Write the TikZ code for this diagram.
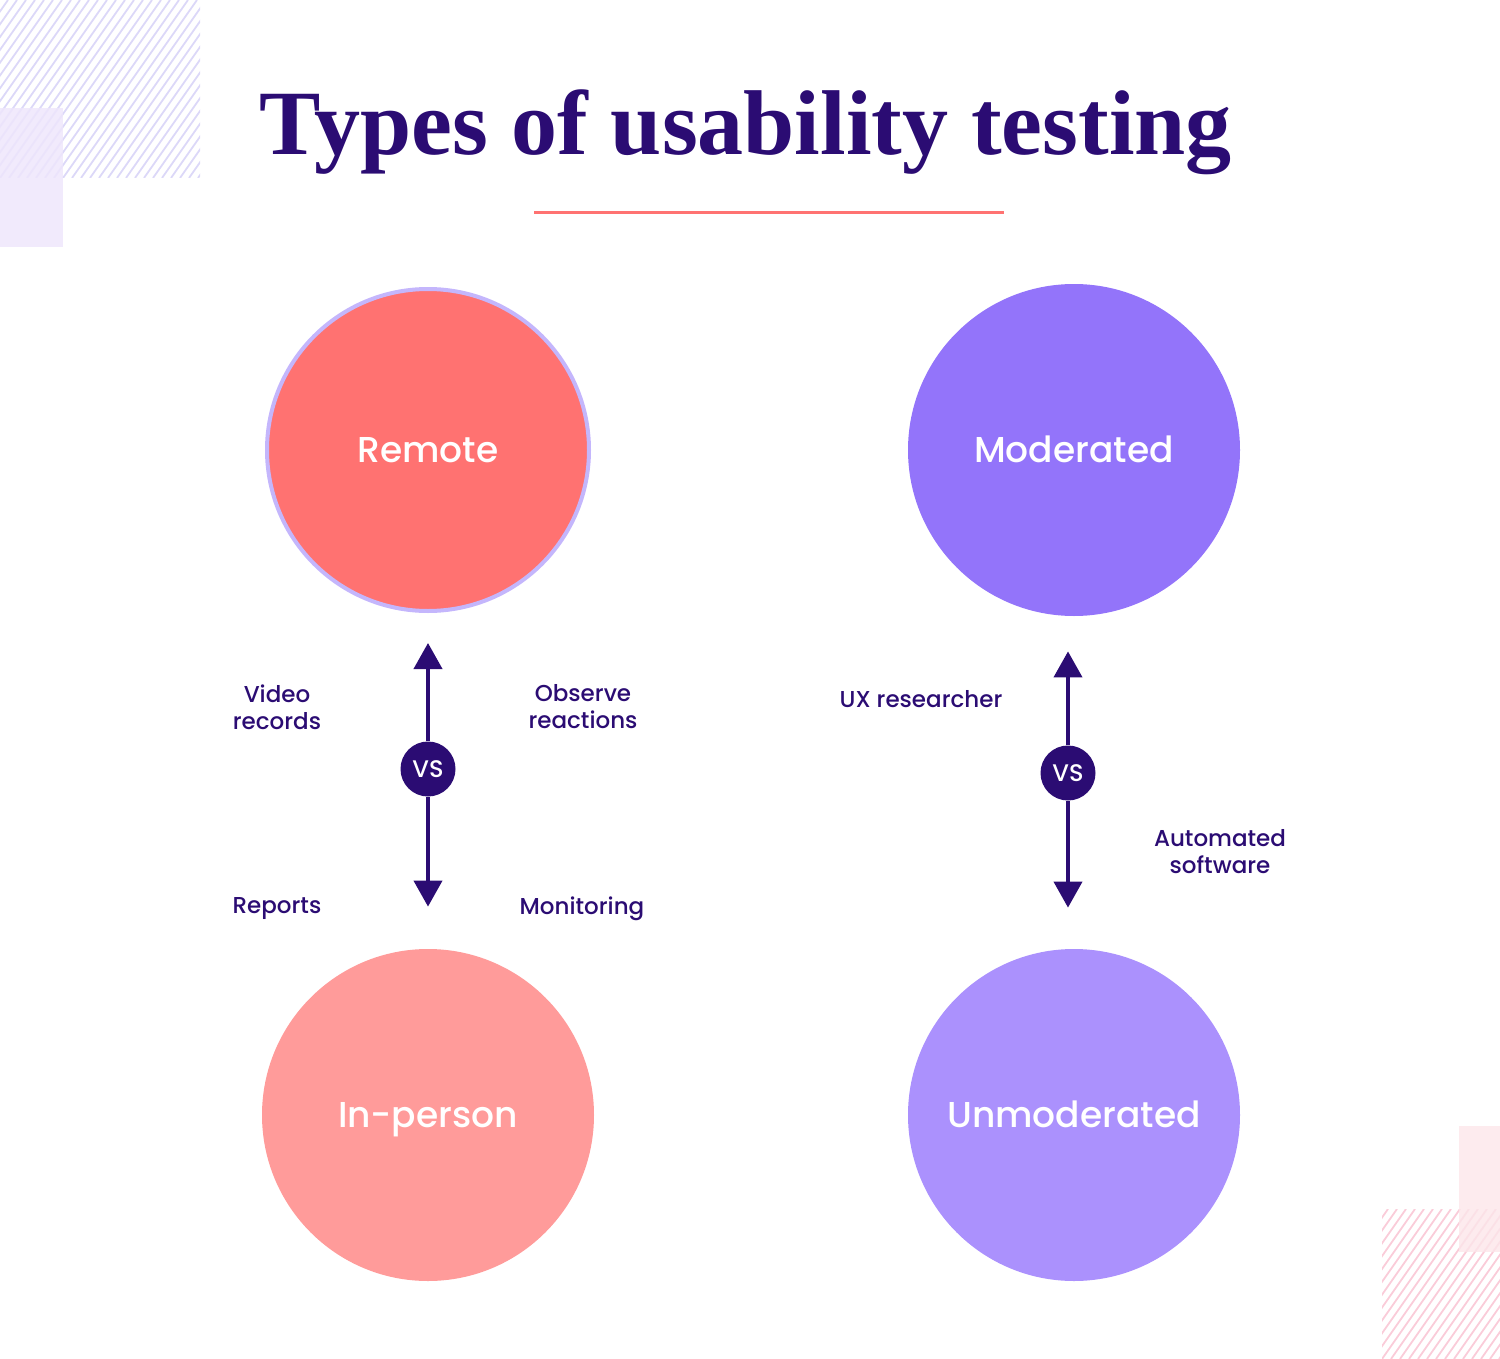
\documentclass[tikz,border=0pt]{standalone}
\usepackage{fontspec}
\setmainfont{Poppins}[UprightFont=* Medium, BoldFont=* SemiBold]
\newfontfamily\titlefont{Liberation Serif}
\usetikzlibrary{arrows.meta,positioning,calc}
\definecolor{ink}{HTML}{2B0C73}
\definecolor{salmon}{HTML}{FF7271}
\definecolor{rosy}{HTML}{FF9B9A}
\definecolor{violet}{HTML}{9374FA}
\definecolor{lilac}{HTML}{AB91FD}
\definecolor{rim}{HTML}{C4B6FC}
\definecolor{hatchblue}{HTML}{DCD8F8}
\definecolor{hatchpink}{HTML}{FACCD9}
\definecolor{paleblue}{HTML}{EEE6FC}
\definecolor{palepink}{HTML}{FCE6EA}
\tikzset{>={Triangle[width=14pt,length=13pt]}}
\tikzset{
  % the four big discs
  disc/.style={circle, inner sep=0pt, minimum size=166pt, text=white,
    text height=12.6pt, text depth=0pt, font=\fontsize{18}{20}\selectfont},
  % small dark badge on the axis
  badge/.style={circle, fill=ink, inner sep=0pt, minimum size=27.5pt,
    text=white, font=\fontsize{12}{13}\selectfont},
  note/.style={text=ink, align=center, font=\fontsize{11.5}{13.5}\selectfont},
  axis/.style={->, ink, line width=2pt},
}

\begin{document}
\begin{tikzpicture}[x=0.5pt, y=-0.5pt]
  \useasboundingbox (0,0) rectangle (1500,1359);
  % corner decorations
  \begin{scope}
    \clip (0,0) rectangle (200,178);
    \foreach \i in {-16,...,24}
      \draw[hatchblue, line width=0.9pt] (\i*9,178) -- ++(125,-178);
  \end{scope}
  \fill[paleblue, opacity=0.85] (0,108) rectangle (63,247);
  \begin{scope}
    \clip (1382,1209) rectangle (1500,1359);
    \foreach \i in {-12,...,16}
      \draw[hatchpink, line width=0.9pt] (1382+\i*9,1359) -- ++(105,-150);
  \end{scope}
  \fill[palepink, opacity=0.8] (1459,1126) rectangle (1500,1252);

  % title
  \node[anchor=base, text=ink, font=\titlefont\bfseries\fontsize{46}{50}\selectfont]
    (title) at (746,155) {Types of usability testing};
  \draw[salmon, line width=1.5pt] (534,212) -- (1004,212);

  % discs
  \node[disc, fill=salmon, draw=rim, line width=2pt, minimum size=161pt]
    (remote) at (428,450) {Remote};
  \node[disc, fill=rosy] (inperson) at (428,1115) {In-person};
  \node[disc, fill=violet] (moderated) at (1074,450) {Moderated};
  \node[disc, fill=lilac] (unmoderated) at (1074,1115) {Unmoderated};

  % vs badges and arrows
  \node[badge] (vsleft) at (428,769) {VS};
  \node[badge] (vsright) at (1068,773) {VS};
  \draw[axis, shorten >=15pt] (vsleft) -- (remote);
  \draw[axis, shorten >=21pt] (vsleft) -- (inperson);
  \draw[axis, shorten >=17.5pt] (vsright) -- (vsright |- moderated.south);
  \draw[axis, shorten >=20.5pt] (vsright) -- (vsright |- unmoderated.north);

  % notes
  \node[note] (video) at (277,707) {Video\\records};
  \node[note] (observe) at (583,707) {Observe\\reactions};
  \node[note] (reports) at (277,909) {Reports};
  \node[note] (monitor) at (582,909) {Monitoring};
  \node[note] (uxr) at (921,699) {UX researcher};
  \node[note] (auto) at (1220,852) {Automated\\software};
\end{tikzpicture}
\end{document}
